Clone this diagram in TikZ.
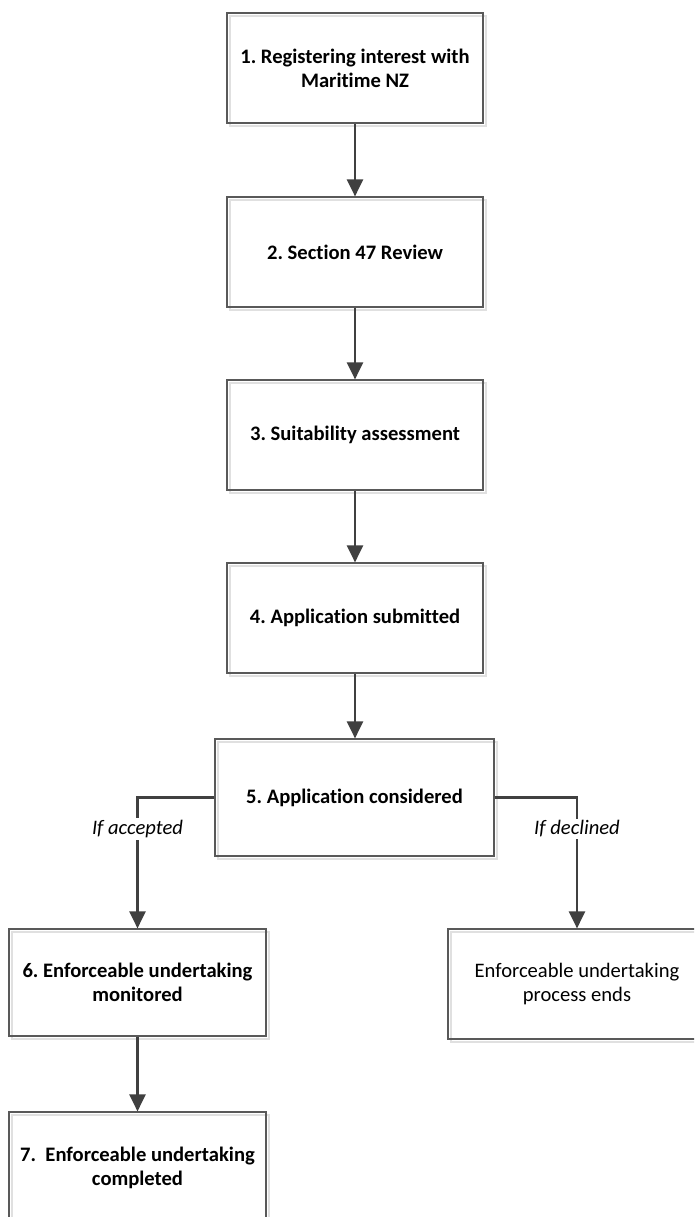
\documentclass[tikz,border=0pt]{standalone}
\usepackage{fontspec}
\setmainfont[Ligatures=NoCommon]{Carlito}
\usetikzlibrary{arrows.meta,shadows}
\definecolor{boxline}{HTML}{595959}
\definecolor{arrowc}{HTML}{404040}
\definecolor{shade}{HTML}{E0E0E0}
\frenchspacing
\begin{document}
\begin{tikzpicture}[x=1pt,y=-1pt,
  stepbox/.style={draw=boxline,line width=1.2pt,minimum width=256pt,minimum height=110pt,
    inner sep=0pt,align=center,font=\bfseries\fontsize{20.6}{24}\selectfont,
    general shadow={draw=shade,line width=1.4pt,shadow xshift=3pt,shadow yshift=-3pt}},
  endbox/.style={stepbox,font=\mdseries\fontsize{20.6}{24}\selectfont},
  flow/.style={draw=arrowc,line width=2.5pt,-{Triangle[width=16pt,length=17pt]}},
  lbl/.style={fill=white,font=\itshape\fontsize{20.6}{24}\selectfont,inner sep=2pt}]
\clip (0,0) rectangle (694,1217);
\fill[white] (0,0) rectangle (694,1217);
\node[stepbox] (b1) at (355,68) {1. Registering interest with\\Maritime NZ};
\node[stepbox] (b2) at (355,252) {2. Section 47 Review};
\node[stepbox] (b3) at (355,435) {3. Suitability assessment};
\node[stepbox] (b4) at (355,618) {4. Application submitted};
\node[stepbox,minimum width=279pt,minimum height=117pt] (b5) at (354.5,797.5) {5. Application considered};
\node[stepbox,minimum width=257pt,minimum height=107pt] (b6) at (137.5,982.5) {6. Enforceable undertaking\\monitored};
\node[stepbox,minimum width=257pt,minimum height=112pt] (b7) at (137.5,1168) {7.\ \ Enforceable undertaking\\completed};
\node[endbox,minimum width=258pt,minimum height=110pt] (b8) at (577,984) {Enforceable undertaking\\process ends};
\draw[flow] (b1.south) -- (b2.north);
\draw[flow] (b2.south) -- (b3.north);
\draw[flow] (b3.south) -- (b4.north);
\draw[flow] (b4.south) -- (b4.south |- b5.north);
\draw[flow] (b5.west) -| node[lbl,pos=0.62] {If accepted} (b6.north);
\draw[flow] (b5.east) -| node[lbl,pos=0.62] {If declined} (b8.north);
\draw[flow] (b6.south) -- (b7.north);
\end{tikzpicture}
\end{document}
